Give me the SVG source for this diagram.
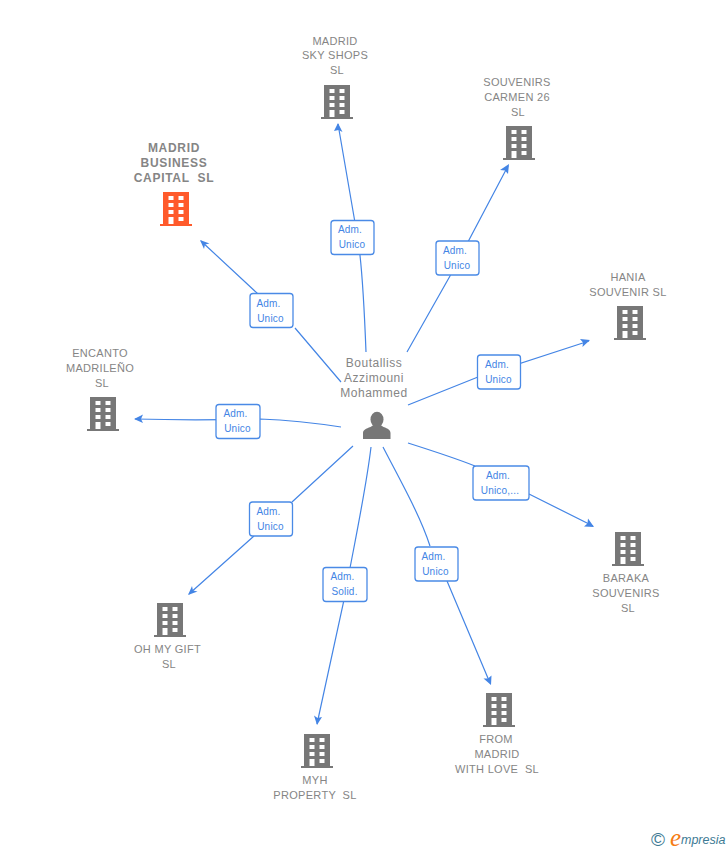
<svg xmlns="http://www.w3.org/2000/svg" width="728" height="850" viewBox="0 0 728 850">
<style>
.t{font-family:"Liberation Sans",Arial,sans-serif;font-size:11px;fill:#858585;text-anchor:middle;letter-spacing:.3px;white-space:pre}
.b{font-weight:bold;font-size:12px;letter-spacing:.7px}
.p{font-size:12px;letter-spacing:.5px}
.c{fill:none;stroke:#4485e5;stroke-width:1.2}
.lb{fill:#fff;stroke:#4a8ae6;stroke-width:1.3}
.lt{font-family:"Liberation Sans",Arial,sans-serif;font-size:10px;fill:#4485e5;text-anchor:middle;letter-spacing:.2px}
.ah{fill:#4485e5}
</style>
<defs>
<g id="bld">
<path d="M-16 17h3v-32h26v32h3v2h-32zM-7.500-11v4h5v-4zM2.500-11v4h5v-4zM-7.500-4v4h5v-4zM2.500-4v4h5v-4zM-7.500 3v4h5v-4zM2.500 3v4h5v-4zM-7.500 10v7h5v-7zM2.500 10v4h5v-4z" fill-rule="evenodd"/>
</g>
</defs>
<g id="connectors">
<path class="c" d="M366 352C364 300 362 265 358 240L338 124"/>
<path class="ah" d="M338 123l4.500 9-4-2-4.500 1z"/>
<path class="c" d="M407 352L450 276 508 166"/>
<path class="ah" d="M509 164l-1 10-3-3.500-5-.5z"/>
<path class="c" d="M408 405L478 377 589 341"/>
<path class="ah" d="M590 340l-7.500 7 .5-4.500-3-3.500z"/>
<path class="c" d="M408 443C430 450 455 458 475 466M529 494L593 526"/>
<path class="ah" d="M594 527l-10-.5 3.500-3 .5-5z"/>
<path class="c" d="M383 447C400 480 420 515 430 546M447 581L490 683"/>
<path class="ah" d="M491 685l-7.500-6.500 4.500 0 3.500-3z"/>
<path class="c" d="M371 447C366 490 355 540 344 600L317 724"/>
<path class="ah" d="M317 725l-3-9.500 3.500 2.500 4.500-1z"/>
<path class="c" d="M353 446L292 502M254 536L189 594"/>
<path class="ah" d="M188 595l4-9 1 4.500 4.500 1z"/>
<path class="c" d="M341 427C315 423 285 420 260 419 220 420 170 420 135 419"/>
<path class="ah" d="M134 419l9-4.500-2 4.500 2 4z"/>
<path class="c" d="M341 382L295 328M258 294L201 241"/>
<path class="ah" d="M200 240l9.500 3.500-4.500 1-1 4.500z"/>
</g>
<g id="label-1"><rect class="lb" x="331" y="220.500" width="43" height="34" rx="3"/><text class="lt" x="350" y="233">Adm.</text><text class="lt" x="352" y="248">Unico</text></g>
<g id="label-2"><rect class="lb" x="436" y="241" width="43" height="34" rx="3"/><text class="lt" x="455" y="254">Adm.</text><text class="lt" x="457" y="269">Unico</text></g>
<g id="label-3"><rect class="lb" x="477.500" y="355" width="43" height="34" rx="3"/><text class="lt" x="497" y="368">Adm.</text><text class="lt" x="498.500" y="383">Unico</text></g>
<g id="label-4"><rect class="lb" x="473" y="466" width="56" height="34" rx="3"/><text class="lt" x="498" y="479">Adm.</text><text class="lt" x="500" y="494">Unico,...</text></g>
<g id="label-5"><rect class="lb" x="415" y="547" width="43" height="34" rx="3"/><text class="lt" x="433.500" y="560">Adm.</text><text class="lt" x="435.500" y="575">Unico</text></g>
<g id="label-6"><rect class="lb" x="323" y="567.500" width="44" height="34" rx="3"/><text class="lt" x="342.500" y="580">Adm.</text><text class="lt" x="344.500" y="595">Solid.</text></g>
<g id="label-7"><rect class="lb" x="249.500" y="502" width="43" height="34" rx="3"/><text class="lt" x="268.500" y="515">Adm.</text><text class="lt" x="270.500" y="530">Unico</text></g>
<g id="label-8"><rect class="lb" x="216" y="404.500" width="44" height="34" rx="3"/><text class="lt" x="235.500" y="417">Adm.</text><text class="lt" x="237.500" y="432">Unico</text></g>
<g id="label-9"><rect class="lb" x="250" y="293.500" width="43" height="34" rx="3"/><text class="lt" x="268.500" y="307">Adm.</text><text class="lt" x="270.500" y="322">Unico</text></g>
<g id="person">
<text class="t p" x="374" y="367">Boutalliss</text><text class="t p" x="374" y="382">Azzimouni</text><text class="t p" x="374" y="397">Mohammed</text>
<ellipse cx="377" cy="419.500" rx="6.500" ry="7.800" fill="#777"/>
<path d="M363 439v-6c0-3 3-4.500 7.500-6l3-2h7l3 2c4.500 1.500 7 3 7 6v6z" fill="#777"/>
</g>
<g id="madrid-sky" fill="#777"><text class="t" x="335" y="45">MADRID</text><text class="t" x="335" y="59">SKY SHOPS</text><text class="t" x="337" y="74">SL</text><use href="#bld" x="337" y="100"/></g>
<g id="carmen" fill="#777"><text class="t" x="517" y="86">SOUVENIRS</text><text class="t" x="517" y="101">CARMEN 26</text><text class="t" x="518" y="116">SL</text><use href="#bld" x="519" y="141"/></g>
<g id="capital" fill="#ff5a2b"><text class="t b" x="174" y="152">MADRID</text><text class="t b" x="174" y="167">BUSINESS</text><text class="t b" x="174" y="182">CAPITAL  SL</text><use href="#bld" x="176" y="207"/></g>
<g id="hania" fill="#777"><text class="t" x="628" y="281">HANIA</text><text class="t" x="628" y="296">SOUVENIR SL</text><use href="#bld" x="630" y="321"/></g>
<g id="encanto" fill="#777"><text class="t" x="100" y="357">ENCANTO</text><text class="t" x="100" y="372">MADRILEÑO</text><text class="t" x="102" y="387">SL</text><use href="#bld" x="103" y="412"/></g>
<g id="baraka" fill="#777"><use href="#bld" x="628" y="547"/><text class="t" x="626" y="582">BARAKA</text><text class="t" x="626" y="597">SOUVENIRS</text><text class="t" x="628" y="612">SL</text></g>
<g id="gift" fill="#777"><use href="#bld" x="170" y="618"/><text class="t" x="167.500" y="653">OH MY GIFT</text><text class="t" x="169" y="668">SL</text></g>
<g id="love" fill="#777"><use href="#bld" x="499" y="708"/><text class="t" x="496" y="743">FROM</text><text class="t" x="497" y="758">MADRID</text><text class="t" x="497" y="773">WITH LOVE  SL</text></g>
<g id="myh" fill="#777"><use href="#bld" x="317" y="749"/><text class="t" x="315" y="784">MYH</text><text class="t" x="315" y="799">PROPERTY  SL</text></g>
<g id="logo">
<text x="658" y="846" font-family="'Liberation Sans',sans-serif" font-size="19" fill="#3d7a94" text-anchor="middle">©</text>
<text x="670" y="846" font-family="'Liberation Serif',serif" font-size="25" font-style="italic" fill="#f57c14">e</text>
<text x="681" y="844" font-family="'Liberation Sans',sans-serif" font-size="12.500" font-style="italic" fill="#3d7a94">mpresia</text>
</g>
</svg>
